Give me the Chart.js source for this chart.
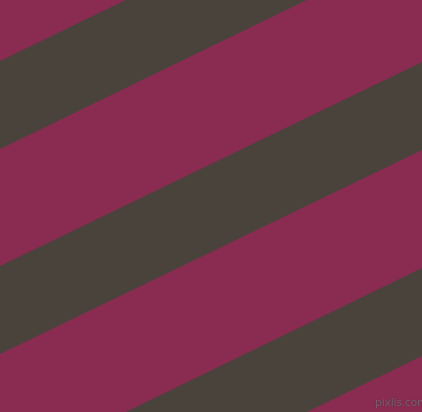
<!DOCTYPE html>
<html>
<head>
<meta charset="utf-8">
<script src="https://cdn.jsdelivr.net/npm/chart.js@4/dist/chart.umd.min.js"></script>
<style>
html,body{margin:0;padding:0;background:#8A2C51;overflow:hidden;}
#wrap{position:relative;width:422px;height:412px;}
canvas{display:block;}
#wm{position:absolute;left:375px;top:396px;font-family:"DejaVu Sans",sans-serif;font-size:11px;letter-spacing:-0.3px;color:rgba(150,130,140,0.55);text-shadow:0 0 1px rgba(60,50,55,0.9);}
</style>
</head>
<body>
<div id="wrap"><canvas id="c" width="422" height="412"></canvas><div id="wm">pixlis.com</div></div>
<script>
// x positions of the two edges of the picture
const xEdges = [0, 422];
// y of each dark stripe's upper and lower edge at x=0 and x=422
const stripe1Top = [61, -144];
const stripe1Bottom = [149, -56];
const stripe2Top = [266, 62];
const stripe2Bottom = [354, 150];
const stripe3Top = [473, 268];
const stripe3Bottom = [561, 356];

const magenta = '#8A2C51';
const dark = '#49433C';

function pts(ys){ return xEdges.map((x,i)=>({x:x,y:ys[i]})); }
function edge(ys, fill){
  return {data:pts(ys), borderWidth:0, borderColor:dark, pointRadius:0, backgroundColor:dark, fill:fill, tension:0};
}
const datasets = [
  edge(stripe1Top, '+1'), edge(stripe1Bottom, false),
  edge(stripe2Top, '+1'), edge(stripe2Bottom, false),
  edge(stripe3Top, '+1'), edge(stripe3Bottom, false)
];
const bg = {id:'bg', beforeDraw(ch){const c=ch.ctx;c.save();c.fillStyle=magenta;c.fillRect(0,0,ch.width,ch.height);c.restore();}};
new Chart(document.getElementById('c'), {
  type:'line',
  data:{datasets:datasets},
  options:{
    responsive:false, animation:false, devicePixelRatio:1,
    layout:{padding:0},
    plugins:{legend:{display:false}, tooltip:{enabled:false}},
    scales:{
      x:{type:'linear', min:0, max:422, display:false},
      y:{type:'linear', min:0, max:412, reverse:true, display:false}
    }
  },
  plugins:[bg]
});
</script>
</body>
</html>
